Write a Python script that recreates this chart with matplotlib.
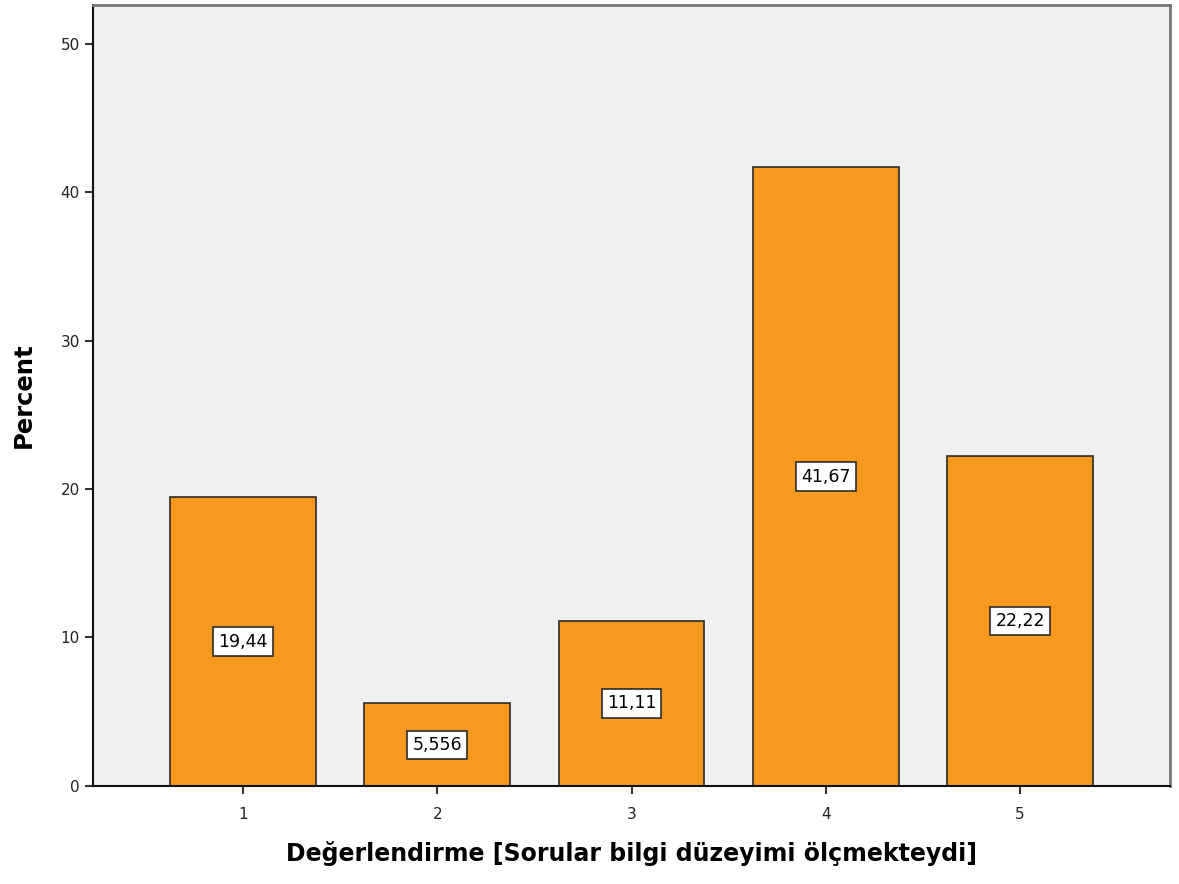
import matplotlib
matplotlib.use("Agg")
import matplotlib.pyplot as plt

categories = [1, 2, 3, 4, 5]
percents = [19.44, 5.556, 11.11, 41.67, 22.22]
labels = ["19,44", "5,556", "11,11", "41,67", "22,22"]
yticks = [0, 10, 20, 30, 40, 50]

fig = plt.figure(figsize=(11.79, 8.84), dpi=100)
ax = fig.add_axes([0.0789, 0.1109, 0.9135, 0.8834])
ax.set_facecolor("#F0F0F0")

ax.bar(categories, percents, width=0.75, color="#F7981F", edgecolor="#2b2b2b", linewidth=1.2, zorder=2)

for x, y, txt in zip(categories, percents, labels):
    ax.text(x, y / 2, txt, ha="center", va="center", fontsize=12.5, color="black", zorder=3,
            bbox=dict(boxstyle="square,pad=0.3", facecolor="white", edgecolor="#2b2b2b", linewidth=1.2))

ax.set_xlim(0.228, 5.772)
ax.set_ylim(0, 52.6)
ax.set_xticks(categories)
ax.set_yticks(yticks)
ax.tick_params(axis="both", labelsize=11, length=6, width=1.5, color="#333333", labelcolor="#222222")
ax.tick_params(axis="x", pad=9)

for side in ["left", "bottom"]:
    ax.spines[side].set_color("#111111")
    ax.spines[side].set_linewidth(1.5)
for side in ["top", "right"]:
    ax.spines[side].set_color("#777777")
    ax.spines[side].set_linewidth(2)

ax.set_xlabel("Değerlendirme [Sorular bilgi düzeyimi ölçmekteydi]", fontsize=17, fontweight="bold", labelpad=14)
ax.set_ylabel("Percent", fontsize=17.5, fontweight="bold", labelpad=18)

fig.savefig("out.png", dpi=100)
